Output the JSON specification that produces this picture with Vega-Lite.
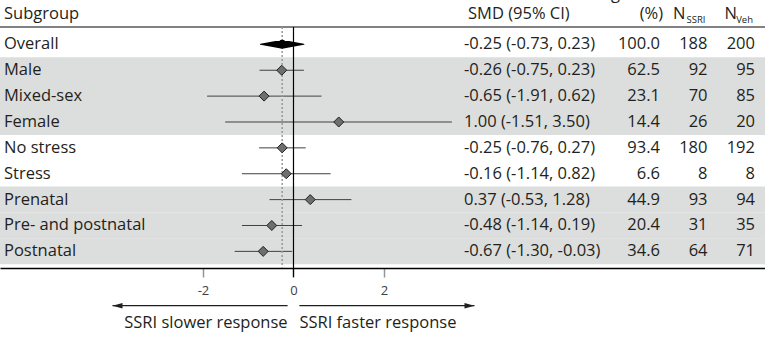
{
  "$schema": "https://vega.github.io/schema/vega-lite/v6.json",
  "width": 765,
  "height": 338,
  "autosize": "none",
  "padding": 0,
  "background": "white",
  "config": {
    "view": {"stroke": null},
    "text": {"font": "Open Sans", "fontSize": 16.5, "color": "#231f20", "baseline": "middle"},
    "axisX": {"orient": "bottom", "offset": -70, "title": null, "grid": false, "domainColor": "#000000", "domainWidth": 1.5, "tickColor": "#939598", "tickWidth": 1.5, "tickSize": 9, "labelFont": "Open Sans", "labelFontSize": 13, "labelColor": "#414042", "labelPadding": 7, "labelFlush": false, "labelExpr": "'' + datum.value"}
  },
  "datasets": {
    "rows": [
      {"sub": "Overall", "group": "Overall", "row": 1, "smd": -0.25, "lo": -0.73, "hi": 0.23, "ci": "-0.25 (-0.73, 0.23)", "weight": "100.0", "nssri": 188, "nveh": 200},
      {"sub": "Male", "group": "Sex", "row": 2, "smd": -0.26, "lo": -0.75, "hi": 0.23, "ci": "-0.26 (-0.75, 0.23)", "weight": "62.5", "nssri": 92, "nveh": 95},
      {"sub": "Mixed-sex", "group": "Sex", "row": 3, "smd": -0.65, "lo": -1.91, "hi": 0.62, "ci": "-0.65 (-1.91, 0.62)", "weight": "23.1", "nssri": 70, "nveh": 85},
      {"sub": "Female", "group": "Sex", "row": 4, "smd": 1.0, "lo": -1.51, "hi": 3.5, "ci": "1.00 (-1.51, 3.50)", "weight": "14.4", "nssri": 26, "nveh": 20},
      {"sub": "No stress", "group": "Stress", "row": 5, "smd": -0.25, "lo": -0.76, "hi": 0.27, "ci": "-0.25 (-0.76, 0.27)", "weight": "93.4", "nssri": 180, "nveh": 192},
      {"sub": "Stress", "group": "Stress", "row": 6, "smd": -0.16, "lo": -1.14, "hi": 0.82, "ci": "-0.16 (-1.14, 0.82)", "weight": "6.6", "nssri": 8, "nveh": 8},
      {"sub": "Prenatal", "group": "Timing", "row": 7, "smd": 0.37, "lo": -0.53, "hi": 1.28, "ci": "0.37 (-0.53, 1.28)", "weight": "44.9", "nssri": 93, "nveh": 94},
      {"sub": "Pre- and postnatal", "group": "Timing", "row": 8, "smd": -0.48, "lo": -1.14, "hi": 0.19, "ci": "-0.48 (-1.14, 0.19)", "weight": "20.4", "nssri": 31, "nveh": 35},
      {"sub": "Postnatal", "group": "Timing", "row": 9, "smd": -0.67, "lo": -1.3, "hi": -0.03, "ci": "-0.67 (-1.30, -0.03)", "weight": "34.6", "nssri": 64, "nveh": 71}
    ],
    "notes": [
      {"dir": "left", "label": "SSRI slower response", "start": -0.13, "tip": -4},
      {"dir": "right", "label": "SSRI faster response", "start": 0.13, "tip": 4}
    ]
  },
  "layer": [
    {
      "data": {"name": "rows"},
      "transform": [{"filter": {"field": "group", "oneOf": ["Sex", "Timing"]}}],
      "mark": {"type": "rule", "strokeWidth": 26, "color": "#dcdddd", "strokeCap": "butt"},
      "encoding": {
        "y": {"field": "row", "type": "quantitative", "scale": {"domain": [-0.715, 12.348], "reverse": true, "nice": false, "zero": false}, "axis": null}
      }
    },
    {
      "data": {"values": [{"line": "header"}]},
      "mark": {"type": "rule", "strokeWidth": 1.5, "color": "#58595b"},
      "encoding": {
        "y": {"datum": 0.3285, "type": "quantitative", "scale": {"domain": [-0.715, 12.348], "reverse": true, "nice": false, "zero": false}, "axis": null}
      }
    },
    {
      "data": {"name": "rows"},
      "layer": [
        {
          "transform": [{"filter": "datum.sub !== 'Overall'"}],
          "mark": {"type": "rule", "color": "#414042", "strokeWidth": 1},
          "encoding": {
            "x": {"field": "lo", "type": "quantitative", "scale": {"domain": [-6.486, 10.42], "nice": false, "zero": false}, "axis": {"values": [-2, 0, 2]}},
            "x2": {"field": "hi"},
            "y": {"field": "row", "type": "quantitative", "axis": null}
          }
        },
        {
          "data": {"values": [{"line": "zero"}]},
          "mark": {"type": "rule", "color": "#000000", "strokeWidth": 1.2},
          "encoding": {
            "x": {"datum": 0, "type": "quantitative", "axis": {"values": [-2, 0, 2]}},
            "y": {"datum": 0.3285, "type": "quantitative", "axis": null},
            "y2": {"datum": 10.0}
          }
        },
        {
          "transform": [{"filter": "datum.sub === 'Overall'"}],
          "mark": {"type": "rule", "color": "#999999", "strokeWidth": 1.5, "strokeDash": [2, 2]},
          "encoding": {
            "x": {"field": "smd", "type": "quantitative", "axis": {"values": [-2, 0, 2]}},
            "y": {"datum": 0.3285, "type": "quantitative", "axis": null},
            "y2": {"datum": 9.64}
          }
        },
        {
          "transform": [{"filter": "datum.sub !== 'Overall'"}],
          "mark": {"type": "point", "shape": "diamond", "filled": true, "fill": "#6d6e70", "stroke": "#231f20", "strokeWidth": 1, "size": 100, "opacity": 1},
          "encoding": {
            "x": {"field": "smd", "type": "quantitative", "axis": {"values": [-2, 0, 2]}},
            "y": {"field": "row", "type": "quantitative", "axis": null}
          }
        },
        {
          "transform": [{"filter": "datum.sub === 'Overall'"}, {"fold": ["lo", "smd", "hi"], "as": ["k", "v"]}],
          "mark": {"type": "trail", "color": "#000000"},
          "encoding": {
            "x": {"field": "v", "type": "quantitative", "axis": {"values": [-2, 0, 2]}},
            "y": {"field": "row", "type": "quantitative", "axis": null},
            "size": {"condition": {"test": "datum.k === 'smd'", "value": 9}, "value": 0}
          }
        },
        {
          "data": {"name": "notes"},
          "mark": {"type": "rule", "color": "#231f20", "strokeWidth": 1.2},
          "encoding": {
            "x": {"field": "start", "type": "quantitative", "axis": {"values": [-2, 0, 2]}},
            "x2": {"field": "tip"},
            "y": {"datum": 11.1, "type": "quantitative", "axis": null}
          }
        },
        {
          "data": {"name": "notes"},
          "mark": {"type": "point", "filled": true, "size": 400, "color": "#231f20", "opacity": 1, "strokeWidth": 0},
          "encoding": {
            "x": {"field": "tip", "type": "quantitative", "axis": {"values": [-2, 0, 2]}},
            "y": {"datum": 11.1, "type": "quantitative", "axis": null},
            "shape": {"field": "dir", "type": "nominal", "scale": {"domain": ["left", "right"], "range": ["M0,0L1,-0.28L1,0.28Z", "M0,0L-1,-0.28L-1,0.28Z"]}, "legend": null}
          }
        },
        {
          "data": {"name": "notes"},
          "transform": [{"filter": "datum.dir === 'left'"}],
          "mark": {"type": "text", "align": "right"},
          "encoding": {
            "x": {"field": "start", "type": "quantitative", "axis": {"values": [-2, 0, 2]}},
            "y": {"datum": 11.75, "type": "quantitative", "axis": null},
            "text": {"field": "label", "type": "nominal"}
          }
        },
        {
          "data": {"name": "notes"},
          "transform": [{"filter": "datum.dir === 'right'"}],
          "mark": {"type": "text", "align": "left"},
          "encoding": {
            "x": {"field": "start", "type": "quantitative", "axis": {"values": [-2, 0, 2]}},
            "y": {"datum": 11.75, "type": "quantitative", "axis": null},
            "text": {"field": "label", "type": "nominal"}
          }
        }
      ]
    },
    {
      "data": {"name": "rows"},
      "layer": [
        {
          "transform": [{"fold": ["sub", "ci"], "as": ["col", "val"]}],
          "mark": {"type": "text", "align": "left"},
          "encoding": {
            "x": {"field": "col", "type": "nominal", "scale": {"type": "point", "domain": ["sub", "ci"], "range": [4, 464], "padding": 0}, "axis": null},
            "y": {"field": "row", "type": "quantitative", "axis": null},
            "text": {"field": "val", "type": "nominal"}
          }
        },
        {
          "data": {"values": [{"col": "sub", "t": "Subgroup"}]},
          "mark": {"type": "text", "align": "left"},
          "encoding": {
            "x": {"field": "col", "type": "nominal", "axis": null},
            "y": {"datum": -0.178, "type": "quantitative", "axis": null},
            "text": {"field": "t", "type": "nominal"}
          }
        },
        {
          "data": {"values": [{"col": "ci", "t": "SMD (95% CI)"}]},
          "mark": {"type": "text", "align": "left", "dx": 4},
          "encoding": {
            "x": {"field": "col", "type": "nominal", "axis": null},
            "y": {"datum": -0.178, "type": "quantitative", "axis": null},
            "text": {"field": "t", "type": "nominal"}
          }
        }
      ]
    },
    {
      "data": {"name": "rows"},
      "layer": [
        {
          "transform": [{"fold": ["weight", "nssri", "nveh"], "as": ["col", "val"]}],
          "mark": {"type": "text", "align": "right"},
          "encoding": {
            "x": {"field": "col", "type": "nominal", "scale": {"type": "point", "domain": ["weight", "nssri", "nveh"], "range": [660, 755], "padding": 0}, "axis": null},
            "y": {"field": "row", "type": "quantitative", "axis": null},
            "text": {"field": "val", "type": "nominal"}
          }
        },
        {
          "data": {"values": [{"col": "weight", "t": "(%)"}]},
          "mark": {"type": "text", "align": "right", "dx": 3},
          "encoding": {
            "x": {"field": "col", "type": "nominal", "axis": null},
            "y": {"datum": -0.178, "type": "quantitative", "axis": null},
            "text": {"field": "t", "type": "nominal"}
          }
        },
        {
          "data": {"values": [{"col": "weight", "t": "Weight"}]},
          "mark": {"type": "text", "align": "right", "dx": -24},
          "encoding": {
            "x": {"field": "col", "type": "nominal", "axis": null},
            "y": {"datum": -0.958, "type": "quantitative", "axis": null},
            "text": {"field": "t", "type": "nominal"}
          }
        },
        {
          "data": {"values": [{"col": "nssri", "t": "N"}]},
          "mark": {"type": "text", "align": "right", "dx": -22},
          "encoding": {
            "x": {"field": "col", "type": "nominal", "axis": null},
            "y": {"datum": -0.178, "type": "quantitative", "axis": null},
            "text": {"field": "t", "type": "nominal"}
          }
        },
        {
          "data": {"values": [{"col": "nveh", "t": "N"}]},
          "mark": {"type": "text", "align": "right", "dx": -18},
          "encoding": {
            "x": {"field": "col", "type": "nominal", "axis": null},
            "y": {"datum": -0.178, "type": "quantitative", "axis": null},
            "text": {"field": "t", "type": "nominal"}
          }
        },
        {
          "data": {"values": [{"col": "nssri", "t": "SSRI"}, {"col": "nveh", "t": "Veh"}]},
          "mark": {"type": "text", "align": "right", "dx": -2, "fontSize": 9.5},
          "encoding": {
            "x": {"field": "col", "type": "nominal", "axis": null},
            "y": {"datum": 0.07, "type": "quantitative", "axis": null},
            "text": {"field": "t", "type": "nominal"}
          }
        }
      ]
    }
  ],
  "resolve": {"scale": {"x": "independent"}}
}
